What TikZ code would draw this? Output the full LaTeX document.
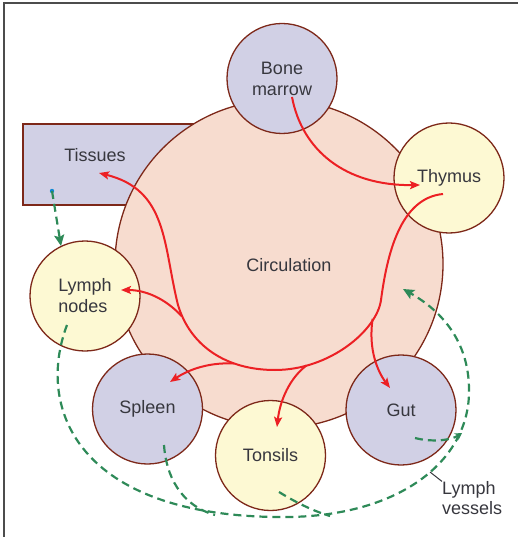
\documentclass[tikz,border=0pt]{standalone}
\usepackage{fontspec}
\setmainfont{Liberation Sans}
\usetikzlibrary{arrows.meta}

\definecolor{peach}{RGB}{247,220,207}
\definecolor{lilac}{RGB}{209,208,229}
\definecolor{cream}{RGB}{253,249,211}
\definecolor{rim}{RGB}{125,40,25}
\definecolor{flow}{RGB}{236,32,36}
\definecolor{lymphgreen}{RGB}{46,138,88}
\definecolor{ink}{RGB}{55,55,62}

\begin{document}
\begin{tikzpicture}[x=1pt,y=-1pt,font=\fontsize{18}{21}\selectfont,
  organ/.style={circle,draw=rim,line width=1.3pt,minimum size=110pt,inner sep=0pt,text=ink,align=center},
  blood/.style={flow,line width=2pt,-{Stealth[length=10pt,width=8pt,inset=2pt]}},
  vessel/.style={lymphgreen,line width=2.2pt,dash pattern=on 8pt off 5pt},
  vtip/.style={-{Stealth[length=11pt,width=10pt,inset=2pt]}}]
  \useasboundingbox (0,0) rectangle (518,537);
  \draw[gray!60!black,line width=1.3pt] (4,537) -- (4,3) -- (518,3);

  % tissues box sits behind the circulation
  \node[draw=rim,line width=1.3pt,fill=lilac,minimum width=200pt,minimum height=81pt,inner sep=0pt] (tis) at (123,164.5) {};
  \node[text=ink] (tistxt) at (95,155) {Tissues};

  \node[organ,fill=peach,minimum size=328pt] (circ) at (279,264) {};
  \node[text=ink] (circtxt) at (289,265) {Circulation};

  \node[organ,fill=lilac] (bm) at (282,78.5) {Bone\\marrow};
  \node[organ,fill=cream] (thy) at (449,178) {Thymus};
  \node[organ,fill=cream,align=left] (ln) at (85,296) {Lymph\\nodes};
  \node[organ,fill=lilac] (spl) at (147.5,409) {Spleen};
  \node[organ,fill=cream] (ton) at (270.5,455.5) {Tonsils};
  \node[organ,fill=lilac] (gut) at (401,410) {Gut};

  % blood route
  \coordinate (bmout) at (292,97);
  \coordinate (thyin) at (420,185);
  \coordinate (thyout) at (443,194);
  \coordinate (tisin) at (99,173);
  \coordinate (jgut) at (372.6,318.8);
  \coordinate (jton) at (306.4,365.5);
  \coordinate (jspl) at (234,363.5);
  \coordinate (jln) at (182,316.5);
  \draw[blood] (bmout) .. controls (302,150) and (345,186) .. (thyin);
  \draw[blood] (thyout) .. controls (400,198) and (387,255) .. (381,300)
    .. controls (377,330) and (330,370) .. (275,370)
    .. controls (225,370) and (190,345) .. (178,305)
    .. controls (163,245) and (168,190) .. (tisin);
  \draw[blood] (jln) .. controls (165,298) and (145,290) .. (121,290);
  \draw[blood] (jspl) .. controls (205,362) and (185,372) .. (170,382);
  \draw[blood] (jton) .. controls (290,378) and (280,400) .. (277,427);
  \draw[blood] (jgut) .. controls (368,350) and (378,372) .. (390,388);

  % lymph route
  \coordinate (tisout) at (52,191);
  \coordinate (lnin) at (61,246);
  \coordinate (lnout) at (67,325);
  \coordinate (circin) at (403,289);
  \fill[cyan!70!blue] (tisout) circle (2.2pt);
  \draw[vessel,vtip] (tisout) -- (lnin);
  \draw[vessel,vtip] (lnout) .. controls (35,410) and (80,515) .. (277,517)
    .. controls (400,519) and (470,460) .. (469,390)
    .. controls (469,340) and (440,310) .. (circin);
  \draw[vessel,-{Stealth[length=7pt,width=8pt]}] (415,438) .. controls (430,442) and (450,441) .. (462,433);
  \draw[vessel] (164,445) .. controls (166,475) and (180,505) .. (215,515);
  \draw[vessel] (279,492) .. controls (292,500) and (310,510) .. (330,516);

  \node[text=ink,align=left,anchor=west,inner sep=0pt,font=\fontsize{18}{19.5}\selectfont] (lv) at (442,498) {Lymph\\vessels};
  \draw[ink,line width=1pt] (430,472) -- (lv.north west);
\end{tikzpicture}
\end{document}
